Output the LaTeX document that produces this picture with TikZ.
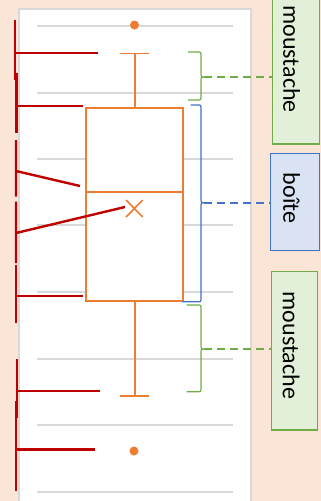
\documentclass[tikz,border=0pt]{standalone}
\usepackage{fontspec}
\setmainfont{Carlito}
\definecolor{peach}{HTML}{FBE5D6}
\definecolor{grayl}{HTML}{D9D9D9}
\definecolor{orng}{HTML}{ED7D31}
\definecolor{redd}{HTML}{C00000}
\definecolor{grn}{HTML}{70AD47}
\definecolor{grnfill}{HTML}{E2F0D9}
\definecolor{blu}{HTML}{4472C4}
\definecolor{blufill}{HTML}{DAE3F3}
\newcommand{\accol}[6]{%
  \draw[#1] (#2,#3) -- (197,#3) .. controls (201,#3) .. (201,{#3+4}) -- (201,{#4-3})
    .. controls (201,#4) .. (204,#4) .. controls (201,#4) .. (201,{#4+3})
    -- (201,{#5-4}) .. controls (201,#5) .. (197,#5) -- (#6,#5);}
\begin{document}
\begin{tikzpicture}[x=1pt,y=-1pt,
  panel/.style={fill=white,draw=grayl,line width=2pt},
  grid/.style={draw=grayl,line width=1.5pt},
  orl/.style={draw=orng,line width=1.6pt},
  redl/.style={draw=redd,line width=2.4pt},
  gbrace/.style={draw=grn,line width=1.2pt},
  bbrace/.style={draw=blu,line width=1.2pt},
  gdash/.style={draw=grn,line width=1.8pt,dash pattern=on 8pt off 5pt},
  bdash/.style={draw=blu,line width=1.8pt,dash pattern=on 8pt off 5pt},
  gbox/.style={draw=grn,fill=grnfill,line width=1.1pt,inner sep=0pt},
  bbox/.style={draw=blu,fill=blufill,line width=1.1pt,inner sep=0pt},
  lbl/.style={rotate=-90,inner sep=0pt,font=\fontsize{24}{28}\selectfont}]
\useasboundingbox (0,0) rectangle (321,501);
\fill[peach] (0,0) rectangle (321,501);
\draw[panel] (19,9) rectangle (251,512);
% grid lines
\foreach \y in {26,93,159,225,292,359,425,492} \draw[grid] (37,\y) -- (233,\y);
% box plot
\fill[orng] (134.5,25) circle (4.5pt);
\fill[orng] (134,451) circle (4.5pt);
\draw[orl] (120,53.5) -- (149,53.5);
\draw[orl] (134.8,53.5) -- (134.8,108);
\draw[orl,fill=white] (86,108) rectangle (183,300.7);
\draw[orl] (86,192) -- (183,192);
\draw[orl] (134.8,300.7) -- (134.8,396);
\draw[orl] (120,396) -- (149,396);
\draw[orl] (126,200) -- (142.7,217) (126,217) -- (142.7,200);
% red annotations
\draw[redl] (15,20) -- (15,80) (15,52.7) -- (98,52.7);
\draw[redl] (16.3,73) -- (16.3,133) (16.3,105.7) -- (83,105.7);
\draw[redl] (16,140) -- (16,196.7) (16,171) -- (80,186);
\draw[redl] (16,201.7) -- (16,263) (16,233) -- (125,207);
\draw[redl] (16,265) -- (16,323) (16,295.7) -- (83,295.7);
\draw[redl] (17,359) -- (17,418) (17,391) -- (100,391);
\draw[redl] (16,400.7) -- (16,491) (16,449.5) -- (95,449.5);
% label boxes
\node[gbox,minimum width=46.8pt,minimum height=174pt] (m1) at (296.1,57) {};
\node[bbox,minimum width=48.8pt,minimum height=96.7pt] (b1) at (295.1,201.7) {};
\node[gbox,minimum width=46.3pt,minimum height=158.3pt] (m2) at (294.2,350.8) {};
\node[lbl] (t1) at (291.5,59) {moustache};
\node[lbl] (t2) at (291.5,198) {boîte};
\node[lbl] (t3) at (291,345.4) {moustache};
% braces
\accol{gbrace}{188}{52}{77}{100}{188}
\accol{bbrace}{190.7}{105}{202.7}{301.7}{182}
\accol{gbrace}{186.7}{305}{349}{391.7}{186.7}
\coordinate (tip1) at (204,77);
\coordinate (tip2) at (204,202.7);
\coordinate (tip3) at (204,349);
\draw[gdash] (tip1) -- (tip1 -| m1.west);
\draw[bdash] (tip2) -- (tip2 -| b1.west);
\draw[gdash] (tip3) -- (tip3 -| m2.west);
\end{tikzpicture}
\end{document}
